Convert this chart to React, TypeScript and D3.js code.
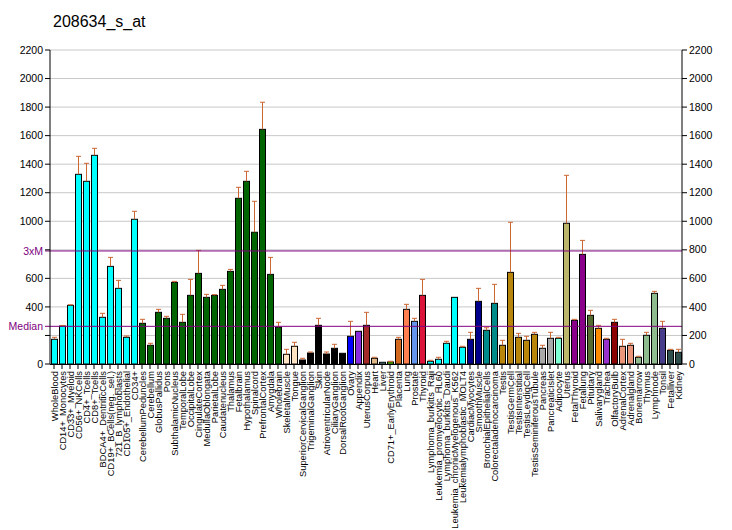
import React from "react";
import * as d3 from "d3";

const title = "208634_s_at";

const categories = [
  "WholeBlood", "CD14+_Monocytes", "CD33+_Myeloid", "CD56+_NKCells", "CD4+_Tcells", "CD8+_Tcells",
  "BDCA4+_DentriticCells", "CD19+_BCells(neg._sel.)", "721_B_lymphoblasts", "CD105+_Endothelial", "CD34+",
  "CerebellumPeduncles", "Cerebellum", "GlobusPallidus", "Pons", "SubthalamicNucleus", "TemporalLobe",
  "OccipitalLobe", "CingulateCortex", "MedullaOblongata", "ParietalLobe", "Caudatenucleus", "Thalamus",
  "Fetalbrain", "Hypothalamus", "Spinalcord", "PrefrontalCortex", "Amygdala", "Wholebrain",
  "SkeletalMuscle", "Tongue", "SuperiorCervicalGanglion", "TrigeminalGanglion", "Skin",
  "AtrioventricularNode", "CiliaryGanglion", "DorsalRootGanglion", "Ovary", "Appendix", "UterusCorpus",
  "Heart", "Liver", "CD71+_EarlyErythroid", "Placenta", "Lung", "Prostate", "Thyroid",
  "Lymphoma_burkitts_Raji", "Leukemia_promyelocytic_HL60", "Lymphoma_burkitts_Daudi",
  "Leukemia_chronicMyelogenous_K562", "Leukemialymphoblastic_MOLT4", "CardiacMyocytes", "SmoothMuscle",
  "BronchialEpithelialCells", "Colorectaladenocarcinoma", "Testis", "TestisGermCell", "TestisInterstitial",
  "TestisLeydigCell", "TestisSeminiferousTubule", "Pancreas", "PancreaticIslet", "Adipocyte", "Uterus",
  "FetalThyroid", "Fetallung", "Pituitary", "Salivarygland", "Trachea", "OlfactoryBulb", "AdrenalCortex",
  "Adrenalgland", "Bonemarrow", "Thymus", "Lymphnode", "Tonsil", "Fetalliver", "Kidney",
];

const values = [
  173, 266, 411, 1329, 1280, 1462, 327, 684, 530, 187, 1014,
  285, 131, 362, 320, 572, 292, 481, 635, 467, 481, 523, 649, 1161, 1280, 923, 1644, 628, 257,
  68, 124, 28, 77, 271, 70, 110, 75, 194, 229, 271, 40, 12, 14, 173, 383, 299, 481,
  19, 33, 145, 467, 117, 173, 439, 236, 425, 131, 642, 187, 166, 208, 110, 180, 180, 986,
  306, 768, 341, 250, 173, 292, 124, 131, 47, 201, 495, 250, 96, 82,
];

const errTops = [
  187, 270, 415, 1455, 1406, 1511, 355, 747, 586, 196, 1070,
  313, 145, 383, 334, 579, 348, 593, 796, 488, 486, 551, 663, 1238, 1350, 1140, 1834, 747, 292,
  103, 152, 40, 84, 320, 84, 138, 75, 299, 229, 362, 47, 12, 19, 187, 418, 320, 593,
  26, 47, 159, 467, 124, 222, 530, 254, 558, 166, 993, 215, 194, 222, 131, 222, 187, 1322,
  313, 866, 376, 271, 180, 313, 173, 145, 54, 222, 509, 299, 103, 103,
];

const groupColors = [
  "#00FFFF", "#006400", "#FFE4C4", "#000000", "#0000FF", "#8A2BE2", "#A52A2A", "#DEB887",
  "#5F9EA0", "#7FFF00", "#D2691E", "#FF7F50", "#6495ED", "#DC143C", "#00FFFF", "#00008B",
  "#008B8B", "#B8860B", "#A9A9A9", "#7FFFD4", "#BDB76B", "#8B008B", "#556B2F", "#FF8C00",
  "#9932CC", "#8B0000", "#E9967A", "#8FBC8F", "#483D8B", "#2F4F4F",
];
const groupSizes = [11, 18, 2, 6, 1, 1, 1, 1, 1, 1, 1, 1, 1, 1, 5, 2, 2, 5, 2, 1, 1, 2, 1, 1, 1, 1, 2, 3, 1, 2];

const yTicks = [0, 200, 400, 600, 800, 1000, 1200, 1400, 1600, 1800, 2000, 2200];
const leftHiddenTicks = [200, 800];
const medianValue = 264;
const threeXM = 792;

const barColors: string[] = [];
groupSizes.forEach((n, gi) => {
  for (let k = 0; k < n; k++) barColors.push(groupColors[gi]);
});

export default function App() {
  const W = 732, H = 530;
  const left = 50, right = 682, top = 50, bottom = 364;
  const x = d3.scaleBand<number>().domain(d3.range(categories.length)).range([left, right]).padding(0);
  const y = d3.scaleLinear().domain([0, 2200]).range([bottom, top]);
  const bw = x.bandwidth();
  const font = "'Liberation Sans', Arial, sans-serif";
  const purple = "#800080";
  const errColor = "#CC6633";

  return (
    <svg width={W} height={H} style={{ position: "absolute", left: 0, top: 0, background: "#fff" }} fontFamily={font}>
      <rect x={0} y={0} width={W} height={H} fill="#fff" />
      <text x={53} y={27} fontSize={16} fill="#000">{title}</text>

      {yTicks.map((t) => (
        <line key={"g" + t} x1={left} x2={right} y1={y(t)} y2={y(t)} stroke="#C8C8C8" strokeWidth={1} />
      ))}

      {values.map((v, i) => {
        const x0 = x(i)!;
        return (
          <rect key={"b" + i} x={x0 + 1.5} y={y(v)} width={bw - 2} height={bottom - y(v)}
            fill={barColors[i]} stroke="#000" strokeWidth={1} />
        );
      })}

      {values.map((v, i) => {
        const e = errTops[i];
        if (e <= v) return null;
        const cx = x(i)! + bw / 2 + 0.5;
        return (
          <g key={"e" + i} stroke={errColor} strokeWidth={1}>
            <line x1={cx} x2={cx} y1={y(v)} y2={y(e)} />
            <line x1={cx - 2.5} x2={cx + 2.5} y1={y(e)} y2={y(e)} />
          </g>
        );
      })}

      <line x1={45} x2={right} y1={y(threeXM)} y2={y(threeXM)} stroke={purple} strokeWidth={1} />
      <line x1={45} x2={right} y1={y(medianValue)} y2={y(medianValue)} stroke={purple} strokeWidth={1} />
      <text x={43} y={y(threeXM)} dy="0.35em" textAnchor="end" fontSize={10.5} fill={purple}>3xM</text>
      <text x={43} y={y(medianValue)} dy="0.35em" textAnchor="end" fontSize={10.5} fill={purple}>Median</text>

      <line x1={left} x2={left} y1={top} y2={bottom} stroke="#000" />
      <line x1={right} x2={right} y1={top} y2={bottom} stroke="#000" />
      <line x1={left} x2={right} y1={bottom + 0.5} y2={bottom + 0.5} stroke="#000" />

      {yTicks.map((t) => (
        <g key={"t" + t}>
          <line x1={45} x2={left} y1={y(t)} y2={y(t)} stroke="#000" />
          {leftHiddenTicks.includes(t) ? null : (
            <text x={43} y={y(t)} dy="0.35em" textAnchor="end" fontSize={10.5} fill="#000">{t}</text>
          )}
          <line x1={right} x2={right + 5} y1={y(t)} y2={y(t)} stroke="#000" />
          <text x={689} y={y(t)} dy="0.35em" textAnchor="start" fontSize={10.5} fill="#000">{t}</text>
        </g>
      ))}

      {categories.map((c, i) => {
        const cx = x(i)! + bw / 2;
        return (
          <g key={"l" + i}>
            <line x1={cx} x2={cx} y1={bottom} y2={bottom + 5} stroke="#000" />
            <text transform={`translate(${cx + 3.5},371) rotate(-90)`} textAnchor="end" fontSize={9.3} fill="#000">{c}</text>
          </g>
        );
      })}
    </svg>
  );
}
